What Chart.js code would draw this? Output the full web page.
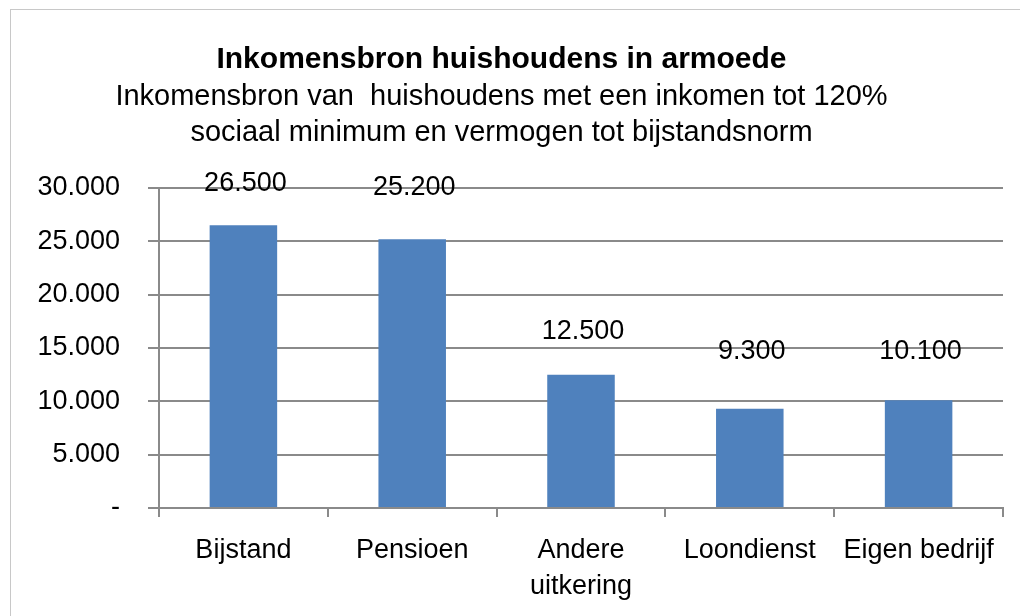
<!DOCTYPE html>
<html>
<head>
<meta charset="utf-8">
<script src="https://cdn.jsdelivr.net/npm/chart.js@4/dist/chart.umd.min.js"></script>
<style>
  html, body { margin: 0; padding: 0; background: #fff; overflow: hidden; }
  #frame { position: absolute; left: 10px; top: 9px; width: 1100px; height: 700px; border: 1px solid #c8c8c8; }
  #wrap { position: absolute; left: 0; top: 0; width: 1020px; height: 616px; }
</style>
</head>
<body>
<div id="frame"></div>
<div id="wrap"><canvas id="chart" width="1020" height="616"></canvas></div>
<script>
// data
const categories = ['Bijstand', 'Pensioen', ['Andere', 'uitkering'], 'Loondienst', 'Eigen bedrijf'];
const households = [26500, 25200, 12500, 9300, 10100];
const yTicks = [0, 5000, 10000, 15000, 20000, 25000, 30000];

const FONT = "'Liberation Sans', Arial, sans-serif";
const GRID = '#8a8a8a';

const fmt = v => v === 0 ? '-' : v.toLocaleString('nl-NL');

// value labels above the bars (manually placed in the original, hence per-bar offsets)
const valueLabels = {
  id: 'valueLabels',
  afterDatasetsDraw(chart, args, opts) {
    const ctx = chart.ctx;
    const meta = chart.getDatasetMeta(0);
    ctx.save();
    ctx.font = '27px ' + FONT;
    ctx.fillStyle = '#000';
    ctx.textAlign = 'center';
    ctx.textBaseline = 'middle';
    meta.data.forEach((bar, i) => {
      ctx.fillText(fmt(households[i]), bar.x + 2, bar.y - opts.offsets[i]);
    });
    ctx.restore();
  }
};

new Chart(document.getElementById('chart'), {
  type: 'bar',
  data: {
    labels: categories,
    datasets: [{
      data: households,
      backgroundColor: '#4f81bd',
      borderWidth: 0,
      barPercentage: 0.4,
      categoryPercentage: 1
    }]
  },
  plugins: [valueLabels],
  options: {
    responsive: false,
    animation: false,
    layout: { padding: { left: 0, right: 17, top: 0, bottom: 0 } },
    plugins: {
      legend: { display: false },
      tooltip: { enabled: false },
      title: {
        display: true,
        text: 'Inkomensbron huishoudens in armoede',
        color: '#000',
        font: { family: FONT, size: 30, weight: 'bold', lineHeight: 1.2 },
        padding: { top: 42, bottom: 1 }
      },
      subtitle: {
        display: true,
        text: ['Inkomensbron van  huishoudens met een inkomen tot 120%', 'sociaal minimum en vermogen tot bijstandsnorm'],
        color: '#000',
        font: { family: FONT, size: 29, lineHeight: 1.241 },
        padding: { top: 0, bottom: 37 }
      },
      valueLabels: { offsets: [42, 52, 43, 57, 49] }
    },
    scales: {
      x: {
        grid: { offset: true, drawOnChartArea: false, drawTicks: true, tickLength: 9, color: GRID, lineWidth: 2 },
        border: { color: GRID, width: 2 },
        ticks: { color: '#000', padding: 16, maxRotation: 0, autoSkip: false, font: { family: FONT, size: 27, lineHeight: 1.333 } },
        afterFit(scale) { scale.height = 108; }
      },
      y: {
        min: 0,
        max: 30000,
        afterBuildTicks(scale) { scale.ticks = yTicks.map(v => ({ value: v })); },
        grid: { color: GRID, lineWidth: 2, tickLength: 11 },
        border: { color: GRID, width: 2 },
        ticks: { color: '#000', padding: 28, font: { family: FONT, size: 27 }, callback: v => fmt(v) },
        afterFit(scale) { scale.width = 159; }
      }
    }
  }
});
</script>
</body>
</html>
